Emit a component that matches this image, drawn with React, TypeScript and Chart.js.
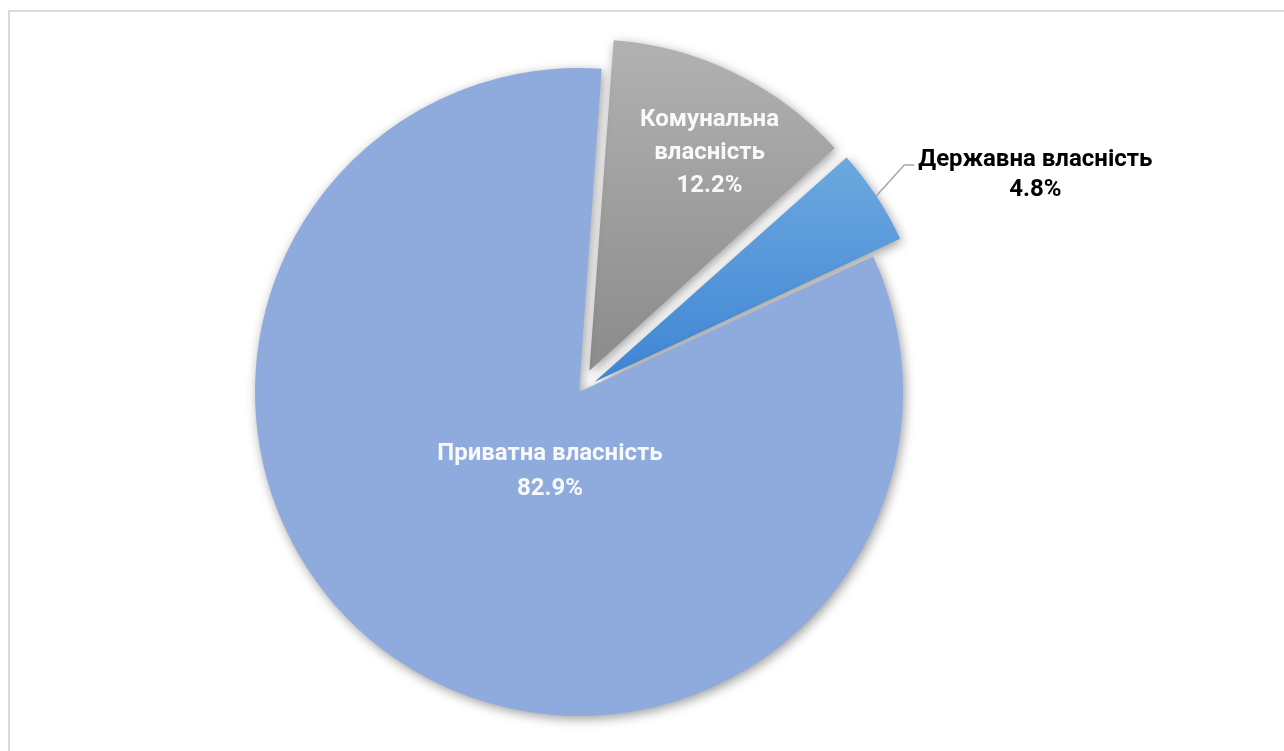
import React, { useEffect, useRef } from 'react';
import { Chart, registerables } from 'chart.js';

Chart.register(...registerables);

// ---- data ----
const categories = ['Комунальна власність', 'Державна власність', 'Приватна власність'];
const labelLines = [['Комунальна', 'власність'], ['Державна власність'], ['Приватна власність']];
const shares = [12.2, 4.8, 82.9];
const percentLabels = ['12.2%', '4.8%', '82.9%'];

// ---- style ----
const RADIUS = 324;
const ROTATION = 4;
const explodePx = [31, 32, 0];
const gradientStops = [
  ['#b4b4b4', '#8e8e8e'],
  ['#6eaadf', '#4388d6'],
  ['#8faadc', '#8faadc'],
];
const FONT = 'Roboto, "Open Sans", sans-serif';

function arcShift(circumference: number, px: number) {
  // translation used by Chart.js ArcElement: offset/4 * (2 - sin(min(PI, circ)))
  const k = 2 - Math.sin(Math.min(Math.PI, circumference));
  return (4 * px) / k;
}

function sliceGeom(chart: any, i: number) {
  const a = chart.chartArea;
  const cx = (a.left + a.right) / 2;
  const cy = (a.top + a.bottom) / 2;
  const total = shares.reduce((s, v) => s + v, 0);
  let start = ((ROTATION - 90) * Math.PI) / 180;
  for (let j = 0; j < i; j++) start += (shares[j] / total) * Math.PI * 2;
  const circ = (shares[i] / total) * Math.PI * 2;
  const mid = start + circ / 2;
  const ox = cx + Math.cos(mid) * explodePx[i];
  const oy = cy + Math.sin(mid) * explodePx[i];
  return { cx, cy, ox, oy, start, end: start + circ, mid, circ };
}

const decorPlugin = {
  id: 'decor',
  beforeDatasetsDraw(chart: any) {
    const ctx = chart.ctx;
    ctx.save();
    ctx.shadowColor = 'rgba(0,0,0,0.38)';
    ctx.shadowBlur = 11;
    ctx.shadowOffsetX = 2;
    ctx.shadowOffsetY = 3;
  },
  afterDatasetsDraw(chart: any) {
    const ctx = chart.ctx;
    ctx.restore();
    ctx.save();
    ctx.textAlign = 'center';
    ctx.textBaseline = 'middle';
    ctx.font = `bold 24px ${FONT}`;

    // Комунальна (inside)
    {
      const g = sliceGeom(chart, 0);
      const ang = g.mid + (3 * Math.PI) / 180;
      const r = RADIUS * 0.745;
      const x = g.ox + Math.cos(ang) * r;
      const y = g.oy + Math.sin(ang) * r;
      ctx.fillStyle = 'rgba(255,255,255,0.93)';
      const lines = [...labelLines[0], percentLabels[0]];
      lines.forEach((t, k) => ctx.fillText(t, x, y + (k - 1) * 33));
    }
    // Приватна (inside)
    {
      const g = sliceGeom(chart, 2);
      const ang = g.mid - (14.6 * Math.PI) / 180;
      const r = RADIUS * 0.262;
      const x = g.ox + Math.cos(ang) * r;
      const y = g.oy + Math.sin(ang) * r;
      ctx.fillStyle = 'rgba(255,255,255,0.93)';
      const lines = [...labelLines[2], percentLabels[2]];
      lines.forEach((t, k) => ctx.fillText(t, x, y + (k - 0.5) * 35));
    }
    // Державна (outside with leader)
    {
      const g = sliceGeom(chart, 1);
      const ex = g.ox + Math.cos(g.mid) * RADIUS;
      const ey = g.oy + Math.sin(g.mid) * RADIUS;
      const bx = ex + 28;
      const by = ey - 31;
      const hx = bx + 10;
      ctx.strokeStyle = '#a6a6a6';
      ctx.lineWidth = 1.5;
      ctx.beginPath();
      ctx.moveTo(ex, ey);
      ctx.lineTo(bx, by);
      ctx.lineTo(hx, by);
      ctx.stroke();
      ctx.fillStyle = '#000000';
      const w = ctx.measureText(labelLines[1][0]).width;
      const tx = hx + 4 + w / 2;
      ctx.fillText(labelLines[1][0], tx, by - 5);
      ctx.fillText(percentLabels[1], tx, by + 25);
    }
    ctx.restore();
  },
};

export default function App() {
  const ref = useRef<HTMLCanvasElement | null>(null);

  useEffect(() => {
    if (!ref.current) return;
    const total = shares.reduce((s, v) => s + v, 0);
    const chart = new Chart(ref.current, {
      type: 'pie',
      data: {
        labels: categories,
        datasets: [
          {
            data: shares,
            borderWidth: 0,
            backgroundColor: (c: any) => {
              const chart = c.chart;
              const i = c.dataIndex;
              if (!chart.chartArea || i === undefined) return gradientStops[i ?? 0][0];
              const g = sliceGeom(chart, i);
              const ys = [g.oy, g.oy + Math.sin(g.start) * RADIUS, g.oy + Math.sin(g.end) * RADIUS];
              let top = Math.min(...ys);
              if (g.start < -Math.PI / 2 && g.end > -Math.PI / 2) top = g.oy - RADIUS;
              const bottom = Math.max(...ys);
              const grad = chart.ctx.createLinearGradient(0, top, 0, bottom);
              grad.addColorStop(0, gradientStops[i][0]);
              grad.addColorStop(1, gradientStops[i][1]);
              return grad;
            },
            offset: (c: any) => {
              const i = c.dataIndex ?? 0;
              const circ = (shares[i] / total) * Math.PI * 2;
              return arcShift(circ, explodePx[i]);
            },
          },
        ],
      },
      options: {
        animation: false,
        responsive: true,
        maintainAspectRatio: false,
        rotation: ROTATION,
        radius: RADIUS,
        layout: { padding: { left: 40, right: 166, top: 40, bottom: 7 } },
        plugins: {
          legend: { display: false },
          tooltip: { enabled: false },
        },
      },
      plugins: [decorPlugin],
    });
    return () => chart.destroy();
  }, []);

  return (
    <div style={{ position: 'fixed', left: 0, top: 0, width: 1284, height: 751, background: '#ffffff', overflow: 'hidden' }}>
      <canvas ref={ref} style={{ width: '100%', height: '100%' }} />
      <div
        style={{
          position: 'absolute',
          left: 8,
          top: 10,
          width: 1300,
          height: 800,
          border: '2px solid #d9d9d9',
          pointerEvents: 'none',
        }}
      />
    </div>
  );
}
